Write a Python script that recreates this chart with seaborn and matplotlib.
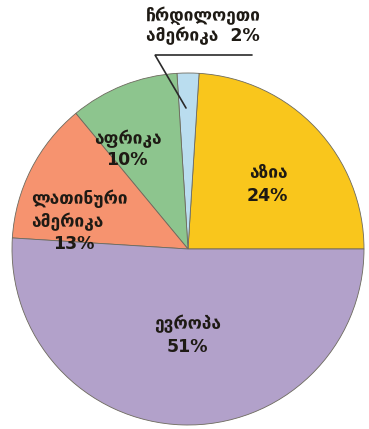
import matplotlib
matplotlib.use("Agg")
import matplotlib.pyplot as plt
import seaborn as sns

# Share of the total by region
regions = ["აზია", "ჩრდილოეთი ამერიკა", "აფრიკა", "ლათინური ამერიკა", "ევროპა"]
shares = [24, 2, 10, 13, 51]
colors = ["#F9C61C", "#BADDEF", "#8DC58E", "#F6936F", "#B2A1CA"]

sns.set_theme(style="white")
plt.rcParams["font.family"] = ["DejaVu Sans", "Noto Sans"]

W, H = 369, 429
fig = plt.figure(figsize=(W / 100, H / 100), dpi=100)
ax = fig.add_axes([0, 0, 1, 1])

# pie centre and radius in pixels
CX, CY, R = 188, 249, 176


def px(x, y):
    return (x - CX) / R, (CY - y) / R


wedges, _ = ax.pie(
    shares,
    colors=colors,
    startangle=0,
    counterclock=True,
    radius=1,
    center=(0, 0),
    wedgeprops=dict(edgecolor="#6d6a5e", linewidth=0.6),
)

ax.set_xlim(-CX / R, (W - CX) / R)
ax.set_ylim((CY - H) / R, CY / R)
ax.set_aspect("equal")
ax.axis("off")

txt = dict(ha="center", va="center", fontsize=12.5, fontweight="bold", color="#1e1a14")

# label text for each wedge, split over lines
label_lines = {
    "აზია": (["აზია", f"{shares[0]}%"], [(268, 173), (267, 196)]),
    "აფრიკა": (["აფრიკა", f"{shares[2]}%"], [(128, 139), (127, 160)]),
    "ლათინური ამერიკა": (["ლათინური", "ამერიკა", f"{shares[3]}%"],
                          [(79, 199), (67, 222), (74, 244)]),
    "ევროპა": (["ევროპა", f"{shares[4]}%"], [(188, 324), (187, 347)]),
    "ჩრდილოეთი ამერიკა": (["ჩრდილოეთი", f"ამერიკა  {shares[1]}%"],
                            [(203, 16), (203, 36)]),
}
for name in regions:
    lines, pos = label_lines[name]
    for s, (x, y) in zip(lines, pos):
        ax.text(*px(x, y), s, **txt)

# leader line for the thin North America slice
x0, y0 = px(155, 55)
x1, _ = px(252, 55)
x2, y2 = px(186, 108)
ax.plot([x1, x0, x2], [y0, y0, y2], color="#2a2a2a", linewidth=1.2,
        solid_joinstyle="miter")

fig.savefig("out.png", dpi=100, facecolor="white")
